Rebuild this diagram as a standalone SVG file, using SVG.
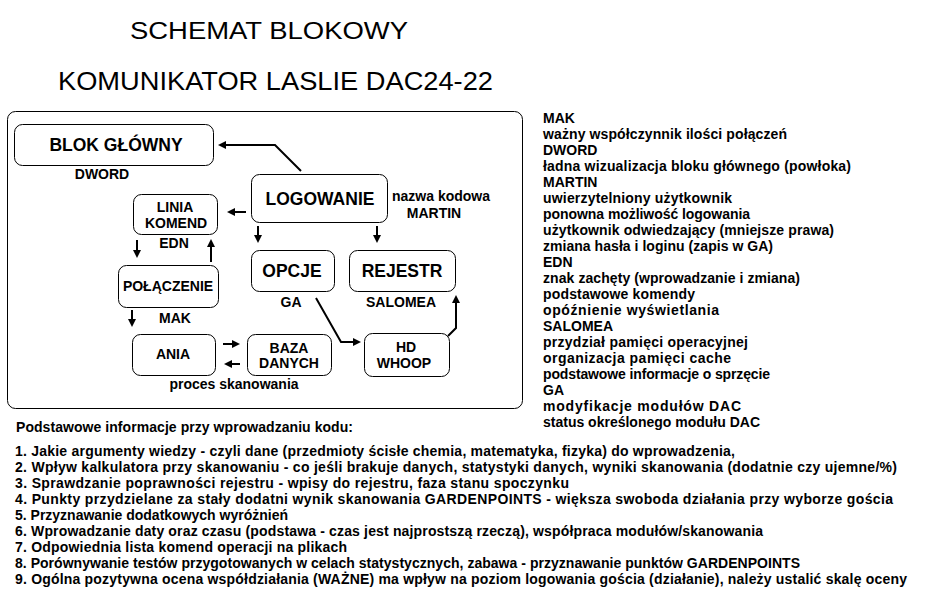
<svg xmlns="http://www.w3.org/2000/svg" width="932" height="605" viewBox="0 0 932 605">
  <style>
    text { font-family: "Liberation Sans", Arial, sans-serif; fill: #000; }
    .title { font-weight: normal; }
    .big { font-size: 17.5px; font-weight: bold; text-anchor: middle; }
    .lbl { font-size: 14px; font-weight: bold; text-anchor: middle; }
    .txt { font-size: 14px; font-weight: bold; }
    .box { fill: #fff; stroke: #000; stroke-width: 1; }
    .frame { fill: none; stroke: #000; stroke-width: 1; }
    .conn { fill: none; stroke: #000; stroke-width: 2; marker-end: url(#arrow); }
  </style>
  <defs>
    <marker id="arrow" markerUnits="userSpaceOnUse" markerWidth="9" markerHeight="8" refX="2" refY="4" orient="auto">
      <path d="M0,0 L8,4 L0,8 z" fill="#000"/>
    </marker>
  </defs>

  <rect width="932" height="605" fill="#fff"/>

  <!-- titles -->
  <text class="title" x="130" y="38.5" font-size="23" textLength="278" lengthAdjust="spacingAndGlyphs">SCHEMAT BLOKOWY</text>
  <text class="title" x="58" y="90" font-size="25" textLength="435" lengthAdjust="spacingAndGlyphs">KOMUNIKATOR LASLIE DAC24-22</text>

  <!-- diagram frame -->
  <rect class="frame" x="7.5" y="111.5" width="515" height="297" rx="8"/>

  <!-- nodes -->
  <g id="blok-glowny">
    <rect class="box" x="14.5" y="124.5" width="199" height="41" rx="8"/>
    <text class="big" x="116" y="151">BLOK GŁÓWNY</text>
    <text class="lbl" x="102" y="179">DWORD</text>
  </g>
  <g id="logowanie">
    <rect class="box" x="251.5" y="174.5" width="136" height="48" rx="8"/>
    <text class="big" x="320" y="205">LOGOWANIE</text>
    <text class="txt" x="392" y="201">nazwa kodowa</text>
    <text class="lbl" x="434" y="218">MARTIN</text>
  </g>
  <g id="linia-komend">
    <rect class="box" x="133.5" y="194.5" width="84" height="40" rx="8"/>
    <text class="lbl" x="175" y="212">LINIA</text>
    <text class="lbl" x="176" y="228">KOMEND</text>
    <text class="lbl" x="174" y="248">EDN</text>
  </g>
  <g id="opcje">
    <rect class="box" x="251.5" y="250.5" width="83" height="41" rx="8"/>
    <text class="big" x="292" y="277">OPCJE</text>
    <text class="lbl" x="291" y="307">GA</text>
  </g>
  <g id="rejestr">
    <rect class="box" x="349.5" y="250.5" width="106" height="41" rx="8"/>
    <text class="big" x="402" y="277">REJESTR</text>
    <text class="lbl" x="401" y="307">SALOMEA</text>
  </g>
  <g id="polaczenie">
    <rect class="box" x="118.5" y="265.5" width="100" height="42" rx="8"/>
    <text class="lbl" x="168" y="291">POŁĄCZENIE</text>
    <text class="lbl" x="175" y="323">MAK</text>
  </g>
  <g id="ania">
    <rect class="box" x="132.5" y="334.5" width="83" height="41" rx="8"/>
    <text class="lbl" x="173" y="359">ANIA</text>
    <text class="txt" x="234" y="389" text-anchor="middle">proces skanowania</text>
  </g>
  <g id="baza-danych">
    <rect class="box" x="247.5" y="334.5" width="84" height="41" rx="8"/>
    <text class="lbl" x="289" y="353">BAZA</text>
    <text class="lbl" x="289" y="368">DANYCH</text>
  </g>
  <g id="hd-whoop">
    <rect class="box" x="364.5" y="333.5" width="85" height="43" rx="8"/>
    <text class="lbl" x="406" y="352">HD</text>
    <text class="lbl" x="404" y="368">WHOOP</text>
  </g>

  <!-- connectors -->
  <g id="connectors">
    <polyline class="conn" points="301,171 275,145 224,145"/>
    <line class="conn" x1="246" y1="212" x2="233" y2="212"/>
    <line class="conn" x1="258" y1="226" x2="258" y2="237"/>
    <line class="conn" x1="377" y1="226" x2="377" y2="237"/>
    <line class="conn" x1="137" y1="240" x2="137" y2="252"/>
    <line class="conn" x1="211" y1="262" x2="211" y2="245"/>
    <line class="conn" x1="132" y1="310" x2="132" y2="321"/>
    <line class="conn" x1="223" y1="344" x2="234" y2="344"/>
    <line class="conn" x1="240" y1="364" x2="230" y2="364"/>
    <polyline class="conn" points="316,298 341,342 355,342"/>
    <polyline class="conn" points="448,336 456,328 456,301"/>
  </g>

  <!-- legend of code names -->
  <g id="legend">
    <text class="txt" x="543" y="123">MAK</text>
    <text class="txt" x="543" y="139" textLength="244" lengthAdjust="spacing">ważny współczynnik ilości połączeń</text>
    <text class="txt" x="543" y="155">DWORD</text>
    <text class="txt" x="543" y="171" textLength="308" lengthAdjust="spacing">ładna wizualizacja bloku głównego (powłoka)</text>
    <text class="txt" x="543" y="187">MARTIN</text>
    <text class="txt" x="543" y="203" textLength="189" lengthAdjust="spacing">uwierzytelniony użytkownik</text>
    <text class="txt" x="543" y="219" textLength="207" lengthAdjust="spacing">ponowna możliwość logowania</text>
    <text class="txt" x="543" y="235" textLength="291" lengthAdjust="spacing">użytkownik odwiedzający (mniejsze prawa)</text>
    <text class="txt" x="543" y="251" textLength="230" lengthAdjust="spacing">zmiana hasła i loginu (zapis w GA)</text>
    <text class="txt" x="543" y="267">EDN</text>
    <text class="txt" x="543" y="283" textLength="257" lengthAdjust="spacing">znak zachęty (wprowadzanie i zmiana)</text>
    <text class="txt" x="543" y="299" textLength="152" lengthAdjust="spacing">podstawowe komendy</text>
    <text class="txt" x="543" y="315" textLength="176" lengthAdjust="spacing">opóźnienie wyświetlania</text>
    <text class="txt" x="543" y="331">SALOMEA</text>
    <text class="txt" x="543" y="347" textLength="205" lengthAdjust="spacing">przydział pamięci operacyjnej</text>
    <text class="txt" x="543" y="363" textLength="188" lengthAdjust="spacing">organizacja pamięci cache</text>
    <text class="txt" x="543" y="379" textLength="227" lengthAdjust="spacing">podstawowe informacje o sprzęcie</text>
    <text class="txt" x="543" y="395">GA</text>
    <text class="txt" x="543" y="411" textLength="198" lengthAdjust="spacing">modyfikacje modułów DAC</text>
    <text class="txt" x="543" y="427" textLength="217" lengthAdjust="spacing">status określonego modułu DAC</text>
  </g>

  <!-- notes -->
  <g id="notes">
    <text class="txt" x="16" y="432" textLength="337" lengthAdjust="spacing">Podstawowe informacje przy wprowadzaniu kodu:</text>
    <text class="txt" x="15" y="456" textLength="720" lengthAdjust="spacing">1. Jakie argumenty wiedzy - czyli dane (przedmioty ścisłe chemia, matematyka, fizyka) do wprowadzenia,</text>
    <text class="txt" x="15" y="472" textLength="882" lengthAdjust="spacing">2. Wpływ kalkulatora przy skanowaniu - co jeśli brakuje danych, statystyki danych, wyniki skanowania (dodatnie czy ujemne/%)</text>
    <text class="txt" x="15" y="488" textLength="554" lengthAdjust="spacing">3. Sprawdzanie poprawności rejestru - wpisy do rejestru, faza stanu spoczynku</text>
    <text class="txt" x="15" y="504" textLength="878" lengthAdjust="spacing">4. Punkty przydzielane za stały dodatni wynik skanowania GARDENPOINTS - większa swoboda działania przy wyborze gościa</text>
    <text class="txt" x="15" y="520" textLength="273" lengthAdjust="spacing">5. Przyznawanie dodatkowych wyróżnień</text>
    <text class="txt" x="15" y="536" textLength="748" lengthAdjust="spacing">6. Wprowadzanie daty oraz czasu (podstawa - czas jest najprostszą rzeczą), współpraca modułów/skanowania</text>
    <text class="txt" x="15" y="552" textLength="332" lengthAdjust="spacing">7. Odpowiednia lista komend operacji na plikach</text>
    <text class="txt" x="15" y="568" textLength="785" lengthAdjust="spacing">8. Porównywanie testów przygotowanych w celach statystycznych, zabawa - przyznawanie punktów GARDENPOINTS</text>
    <text class="txt" x="15" y="584" textLength="892" lengthAdjust="spacing">9. Ogólna pozytywna ocena współdziałania (WAŻNE) ma wpływ na poziom logowania gościa (działanie), należy ustalić skalę oceny</text>
  </g>
</svg>
